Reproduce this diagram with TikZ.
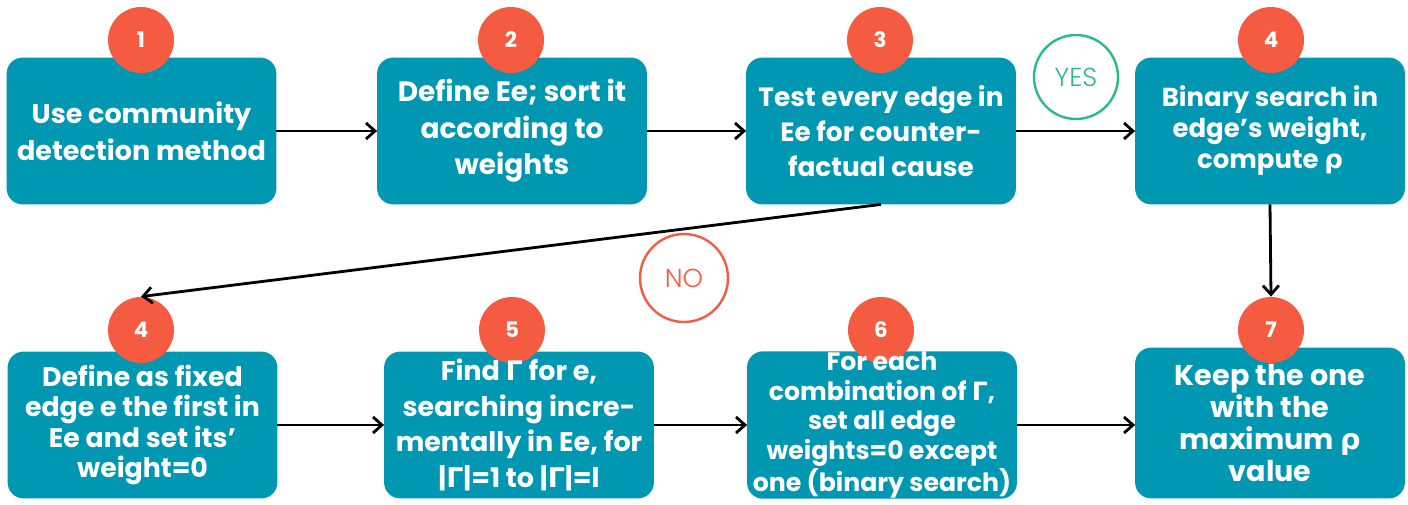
\documentclass[tikz,border=0pt]{standalone}
\usepackage{fontspec}
\setmainfont{Poppins}[UprightFont=* Bold, BoldFont=* Bold]
\newfontfamily\thinfont{Poppins Light}
\newfontfamily\grkfont{DejaVu Sans}[UprightFont=* Bold]
\usetikzlibrary{arrows.meta, backgrounds, calc, positioning}
\definecolor{teal1}{HTML}{0097B2}
\definecolor{red1}{HTML}{F55B41}
\definecolor{green1}{HTML}{2BBD80}
\newcommand{\gGam}{{\grkfont Γ}}
\newcommand{\grho}{{\grkfont ρ}}
\tikzset{
    boxtext/.style 2 args={text=white, align=center, inner sep=0pt,
        minimum width=134.5pt, minimum height=73pt,
        font=\fontsize{#1}{#2}\selectfont},
    boxfill/.style={fill=teal1, rounded corners=8pt},
    numdot/.style={circle, fill=red1, text=white, minimum size=33pt, inner sep=0pt,
        font=\fontsize{10.7pt}{12pt}\selectfont},
    answer/.style={circle, draw=#1, text=#1, line width=1.2pt, minimum size=42pt,
        inner sep=0pt, font=\thinfont\fontsize{13pt}{14pt}\selectfont},
    flow/.style={-{Straight Barb[length=4.5pt,width=8pt]}, line width=1.4pt, black}
}
\begin{document}
\begin{tikzpicture}[x=0.5pt, y=-0.5pt]
    \useasboundingbox (0,0) rectangle (1408,504);
    \def \top {131}
    \def \bot {425}
    % top row
    \node[boxtext={13.5pt}{18.5pt}] (b1) at (141.5,\top) {Use community\\detection method};
    \node[boxtext={14pt}{18.3pt}] (b2) at (512,\top) {Define Ee; sort it\\according to\\weights};
    \node[boxtext={13.2pt}{17.5pt}] (b3) at (881,\top) {Test every edge in\\Ee for counter-\\factual cause};
    \node[boxtext={13pt}{15.5pt}] (b4) at (1270,\top) {Binary search in\\edge’s weight,\\compute \grho};
    % bottom row
    \node[boxtext={13.4pt}{15.2pt}] (b5) at (142.5,\bot) {Define as fixed\\edge e the first in\\Ee and set its’\\weight=0};
    \node[boxtext={13.5pt}{17.9pt}] (b6) at (519,\bot) {Find \gGam{} for e,\\searching incre-\\mentally in Ee, for\\|\gGam|=1 to |\gGam|=l};
    \node[boxtext={12.6pt}{14.9pt}] (b7) at (882,\bot) {For each\\combination of \gGam,\\set all edge\\weights=0 except\\one (binary search)};
    \node[boxtext={14.3pt}{15.9pt}, minimum height=75pt] (b8) at (1270,423) {Keep the one\\with the\\maximum \grho\\value};
    \begin{scope}[on background layer]
    \foreach \b in {1,...,8}
        \fill[boxfill] (b\b.south west) rectangle (b\b.north east);
    \foreach \b/\t/\x/\y in {1/1/141/40, 2/2/511/40, 3/3/880/40, 4/4/1271/40,
                             5/4/141/330, 6/5/512/330, 7/6/881/330, 8/7/1271/330}
        \node[numdot] (c\b) at (\x,\y) {\t};
    \end{scope}
    % answers
    \node[answer=green1] (yes) at (1076,77) {YES};
    \node[answer=red1, minimum size=44pt] (no) at (684,278) {NO};
    % connectors
    \draw[flow] (b1) -- (b2);
    \draw[flow] (b2) -- (b3);
    \draw[flow] (b3) -- (b4);
    \draw[flow] (b3.south) -- (c5.north);
    \draw[flow] (b4.south) -- (c8.north);
    \draw[flow] (b5) -- (b6);
    \draw[flow] (b6) -- (b7);
    \draw[flow] (b7.east) -- (b7.east -| b8.west);
\end{tikzpicture}
\end{document}
